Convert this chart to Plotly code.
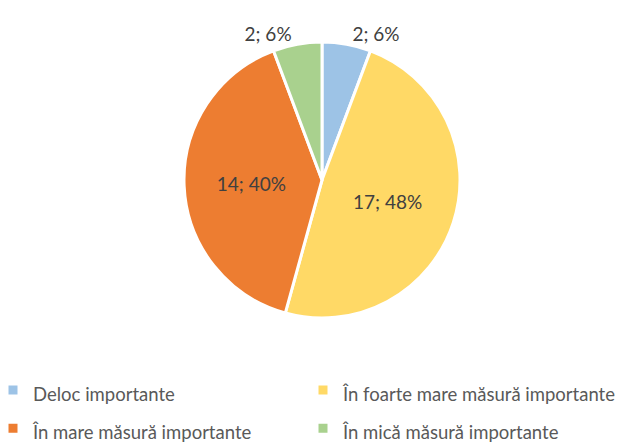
import plotly.graph_objects as go

# answer categories and counts
labels = ["Deloc importante", "În foarte mare măsură importante",
          "În mare măsură importante", "În mică măsură importante"]
counts = [2, 17, 14, 2]
percents = [6, 48, 40, 6]
colors = ["#9DC3E6", "#FFD966", "#ED7D31", "#A9D18E"]

texts = [f"{c}; {p}%" for c, p in zip(counts, percents)]
positions = ["outside" if c < 5 else "inside" for c in counts]
# smaller text inside a taller legend row -> wider row spacing like the original
legend_labels = [f"<span style='font-size:18.5px'>{l}</span>" for l in labels]

plot_h = 355  # plot area height in px (bottom margin holds the legend)

fig = go.Figure(data=go.Pie(
    labels=legend_labels,
    values=counts,
    text=texts,
    textinfo="text",
    textposition=positions,
    insidetextorientation="horizontal",
    textfont=dict(family="Lato", size=19, color="#404040"),
    marker=dict(colors=colors, line=dict(color="white", width=3)),
    sort=False,
    direction="clockwise",
    rotation=0,
    domain=dict(x=[176/643, 452/643], y=[1-310/plot_h, 1-34/plot_h]),
))

fig.update_layout(
    width=643, height=445,
    margin=dict(l=0, r=0, t=0, b=445-plot_h, autoexpand=False),
    paper_bgcolor="white",
    showlegend=True,
    legend=dict(
        orientation="h",
        x=0, y=(plot_h-358)/plot_h,
        xanchor="left", yanchor="top",
        indentation=-15,
        entrywidth=280,
        font=dict(family="Lato", size=27, color="#595959"),
    ),
)

fig.write_html("out.html")
